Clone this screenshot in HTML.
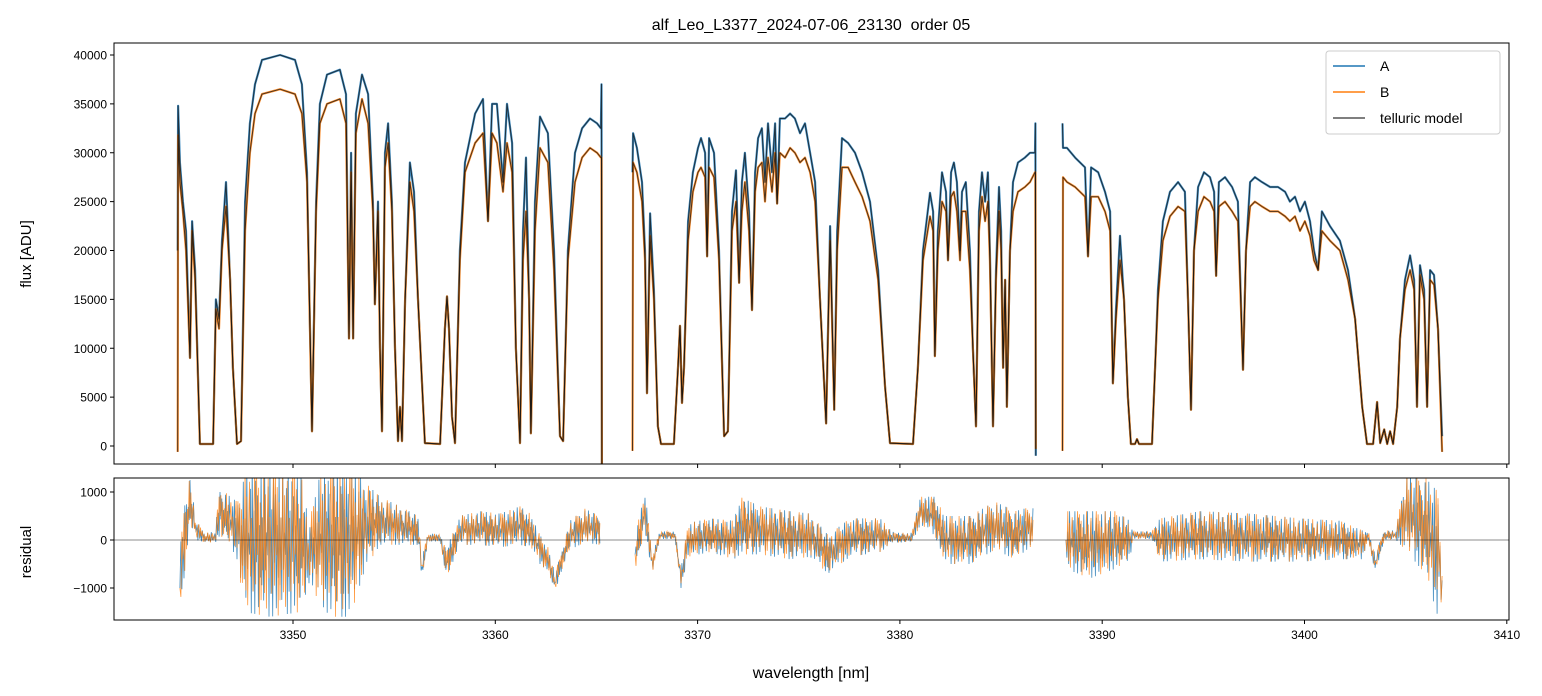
<!DOCTYPE html>
<html><head><meta charset="utf-8"><style>
html,body{margin:0;padding:0;background:#fff;}
svg{display:block;font-family:"Liberation Sans","DejaVu Sans",sans-serif;}
</style></head><body>
<svg id="chart" width="1542" height="696" viewBox="0 0 1542 696" xmlns="http://www.w3.org/2000/svg">
<rect x="0" y="0" width="1542" height="696" fill="#fff"/>
<text x="811" y="30" font-size="16" text-anchor="middle" fill="#000" style="white-space:pre">alf_Leo_L3377_2024-07-06_23130  order 05</text>
<g id="top-panel"></g>
<g id="bot-panel"></g>
<text transform="translate(31,254) rotate(-90)" font-size="15" text-anchor="middle">flux [ADU]</text>
<text transform="translate(31,552) rotate(-90)" font-size="15" text-anchor="middle">residual</text>
<text x="811" y="678" font-size="16" text-anchor="middle">wavelength [nm]</text>
<g>
<rect x="1326" y="51" width="174" height="83" rx="3" fill="#fff" fill-opacity="0.8" stroke="#ccc"/>
<line x1="1333" y1="66" x2="1365" y2="66" stroke="#1f77b4" stroke-width="1.5"/>
<text x="1380" y="71" font-size="14">A</text>
<line x1="1333" y1="92" x2="1365" y2="92" stroke="#ff7f0e" stroke-width="1.5"/>
<text x="1380" y="97" font-size="14">B</text>
<line x1="1333" y1="118" x2="1365" y2="118" stroke="#555" stroke-width="1.5"/>
<text x="1380" y="123" font-size="14">telluric model</text>
</g>
</svg>
<script>
// flux knots (wavelength nm, flux in kADU)
const wl = [3344.30,3344.32,3344.41,3344.56,3344.71,3344.91,3345.01,3345.16,3345.40,3346.05,3346.19,3346.34,3346.49,3346.69,3346.89,3347.03,3347.23,3347.43,3347.63,3347.87,3348.12,3348.47,3349.36,3350.10,3350.44,3350.69,3350.94,3351.14,3351.33,3351.68,3352.32,3352.62,3352.77,3352.87,3352.97,3353.11,3353.41,3353.71,3353.95,3354.05,3354.20,3354.30,3354.40,3354.55,3354.70,3354.89,3355.04,3355.19,3355.29,3355.39,3355.54,3355.78,3355.98,3356.18,3356.52,3357.27,3357.51,3357.61,3357.71,3357.86,3358.01,3358.25,3358.50,3359.00,3359.39,3359.64,3359.84,3360.08,3360.38,3360.58,3360.83,3361.02,3361.22,3361.37,3361.52,3361.67,3361.76,3361.96,3362.21,3362.60,3362.90,3363.20,3363.35,3363.59,3363.94,3364.29,3364.68,3365.03,3365.22,3365.25,3365.27,
3366.78,3366.81,3367.00,3367.25,3367.40,3367.50,3367.65,3367.84,3368.04,3368.19,3368.83,3369.03,3369.13,3369.23,3369.33,3369.53,3369.77,3370.02,3370.17,3370.37,3370.47,3370.57,3370.81,3371.06,3371.31,3371.50,3371.70,3371.90,3372.05,3372.19,3372.34,3372.54,3372.69,3372.84,3372.99,3373.18,3373.33,3373.48,3373.68,3373.83,3373.93,3374.07,3374.32,3374.57,3374.81,3375.06,3375.31,3375.56,3375.81,3376.05,3376.35,3376.55,3376.75,3376.90,3377.14,3377.44,3377.78,3378.13,3378.52,3378.92,3379.27,3379.51,3380.65,3380.89,3381.14,3381.49,3381.64,3381.73,3381.88,3382.08,3382.28,3382.38,3382.53,3382.67,3382.82,3382.97,3383.07,3383.26,3383.46,3383.61,3383.76,3383.91,3384.06,3384.21,3384.35,3384.45,3384.60,3384.75,3384.90,3385.00,3385.10,3385.20,3385.29,3385.44,3385.59,3385.84,3386.18,3386.43,3386.68,3386.70,3386.72,
3388.04,3388.06,3388.26,3388.66,3389.15,3389.30,3389.45,3389.80,3390.14,3390.39,3390.53,3390.68,3390.88,3391.08,3391.27,3391.42,3391.62,3391.72,3391.82,3392.46,3392.61,3392.76,3393.00,3393.35,3393.75,3394.09,3394.24,3394.39,3394.54,3394.74,3395.03,3395.33,3395.53,3395.63,3395.77,3396.07,3396.42,3396.71,3396.81,3396.96,3397.11,3397.31,3397.55,3397.90,3398.30,3398.69,3399.04,3399.28,3399.53,3399.78,3400.02,3400.27,3400.47,3400.67,3400.86,3401.26,3401.75,3402.15,3402.50,3402.85,3403.09,3403.39,3403.59,3403.74,3403.94,3404.09,3404.23,3404.38,3404.58,3404.72,3404.97,3405.22,3405.42,3405.56,3405.71,3405.91,3406.06,3406.21,3406.40,3406.60,3406.80];
const fluxA = [20,34.8,29,25,22,9,23,18,0.2,0.2,15,13,21,27,17,8,0.2,0.5,25,33,37,39.5,40,39.5,37,28,1.5,25,35,38,38.5,36,11,30,11,34,38,36,25,14.5,25,10,1.5,30,33,25,10,0.5,4,0.5,15,29,26,15,0.3,0.2,12,15.3,12,3,0.3,20,29,34,35.5,23,35,35,27,35,31,10,0.3,22,29.5,15,1.3,25,33.7,32,20,1,0.5,20,30,32.5,33.5,33,32.5,37,-1.8,
28,32,30.5,27,20,5.4,23.8,16,2,0.2,0.2,8,12.3,4.4,8,23,28,30.5,31.5,30,19.4,31.5,30,20,1,1.5,24,28.2,16.7,27,30,24,13.9,28,31.5,32.5,27,33,28,33,24.8,33.5,33.5,34,33.5,32,33,30,27,15,2.3,22.5,3.7,22,31.5,31,30,28,25,18,6,0.3,0.2,8,20,25.9,24,9.2,22,28,26,19,28,29,27,20,26,27,20,10,2,24,28,25,28,20,2,18,26.5,22,8,17,4,20,27,29,29.5,30,30,33,-1,
33,30.5,30.5,29.5,28.5,19.4,28.5,28,26,24,6.4,14,21.5,15,5,0.2,0.2,0.7,0.2,0.2,7.8,16,23,26,27,26,15,3.7,20,26.5,28,27.5,26,17.4,27,27.5,26.5,25,18,7.8,20,27,27.5,27,26.5,26.5,26,25,25.5,24,25,23,20,18,24,22.5,21,18,13,4,0.2,0.2,4.5,0.3,1.7,0.2,1.5,0.2,4,11,17,19.5,17,4,18.5,16,4,18,17.5,12,1];
const fluxB = [-0.6,31.8,27,24,20,9,22,17,0.2,0.2,14,12,20,24.5,17,8,0.2,0.5,22,30,34,36,36.5,36,34,27,1.5,24,33,35,35.5,33,11,28,11,32,35.5,33,24,14.5,24,10,1.5,28.5,31,24,10,0.5,4,0.5,15,27,24,15,0.3,0.2,12,15.3,12,3,0.3,19,28,31,32,23,32,31,26,31,28,10,0.3,19,24,15,1.3,22,30.5,29,18,1,0.5,19,27,29.5,30.5,30,29.5,29.5,-1.8,
-0.5,29,28,25,19,5.4,21.5,15,2,0.2,0.2,8,12.3,4.4,8,21,26,28,28.5,27.5,19.4,28.5,27.5,19,1,1.5,22,25,16.7,24,27,22,13.9,26,28.5,29,25,29.5,26,30,24.8,30,29.5,30.5,30,29,29.5,28,25,15,2.3,21,3.7,20,28.5,28.5,27,25.5,23,17,6,0.3,0.2,8,19,23.5,22,9.2,20,25,24,19,25.5,26,24,19,24,24,18,10,2,22,25.5,23,25,19,2,17,24,20,8,17,4,20,24,26,26.5,27,28,28,-0.3,
-0.5,27.5,27,26.5,25.5,19.4,25.5,25.5,24,22,6.4,13,19,15,5,0.2,0.2,0.7,0.2,0.2,7.8,15,21,23.5,24.5,24,15,3.7,20,24,25.5,25,24,17.4,24.5,25,24,23,17,7.8,20,24.5,25,24.5,24,24,23.5,23,23.5,22,23,21.5,19,18,22,21,20,17,13,4,0.2,0.2,4.5,0.3,1.7,0.2,1.5,0.2,4,11,16,18,16,4,17.5,15,4,17,16.5,12,-0.6];
// wavelengths where a new detector segment starts (gaps in coverage)
const segmentStarts = [3366.78, 3388.04];
// residual envelope knots (wavelength nm, mean and spread in kADU)
const resWl = [3344.41,3344.61,3344.91,3345.21,3345.65,3346.14,3346.39,3346.89,3347.23,3347.63,3348.86,3350.35,3350.79,3351.19,3351.83,3352.82,3353.56,3354.30,3355.29,3356.18,3356.38,3356.67,3357.27,3357.56,3357.86,3358.25,3359.24,3360.23,3361.22,3361.72,3362.21,3362.60,3362.95,3363.30,3363.69,3364.43,3365.17,
3366.91,3367.40,3367.75,3368.14,3368.88,3369.18,3369.53,3370.61,3371.80,3372.10,3373.08,3374.57,3375.56,3376.45,3377.53,3379.02,3379.71,3380.60,3380.99,3381.73,3382.22,3383.46,3384.70,3385.69,3386.58,
3388.21,3389.40,3390.63,3391.37,3391.52,3392.46,3392.86,3394.83,3397.31,3399.78,3401.75,3402.85,3403.14,3403.49,3403.94,3404.53,3404.97,3405.96,3406.60,3406.80];
const resMean = [-1.0,0.0,0.8,0.2,0.05,0.05,0.6,0.4,0.2,0,0,0,-0.3,0,0,0,0.3,0.4,0.3,0.2,-0.6,0.05,0.05,-0.5,-0.2,0.2,0.25,0.2,0.3,0.2,-0.2,-0.4,-0.9,-0.4,0.1,0.3,0.2,
-0.3,0.6,-0.5,0.1,0.1,-0.8,0,0.1,0,0.3,0.2,0.1,0.1,-0.3,0.05,0.1,0.05,0.05,0.6,0.5,0,0,0.3,0.1,0.3,
0,-0.1,0,0,0.1,0.1,0,0.1,0.05,0,0,-0.1,0.1,-0.5,0.1,0.1,0.6,0.3,-0.3,-0.9];
const resSpread = [0.7,0.8,0.5,0.2,0.1,0.12,0.5,0.5,0.6,1.5,1.6,1.5,0.6,1.2,1.6,1.6,0.9,0.5,0.4,0.3,0.25,0.08,0.08,0.3,0.3,0.3,0.35,0.35,0.4,0.35,0.3,0.25,0.2,0.2,0.3,0.35,0.3,
0.4,0.4,0.2,0.08,0.08,0.2,0.35,0.35,0.4,0.6,0.5,0.5,0.45,0.4,0.4,0.35,0.1,0.1,0.3,0.4,0.5,0.5,0.5,0.5,0.4,
0.6,0.7,0.6,0.4,0.08,0.08,0.45,0.5,0.5,0.45,0.4,0.3,0.1,0.2,0.1,0.1,0.8,1.0,1.3,0.3];
const xTicks = [3350,3360,3370,3380,3390,3400,3410];
const yTicksTop = [0,5000,10000,15000,20000,25000,30000,35000,40000];
const yTicksBot = [-1000,0,1000];

const NS = 'http://www.w3.org/2000/svg';
const X0 = 114, X1 = 1509;
const TY0 = 43, TY1 = 464, BY0 = 478, BY1 = 620;
const xScale = w => 293 + (w - 3350) * 20.23;
const yTop = v => 446 - v * 9.775 / 1000;
const yBot = v => 540 - v * 48 / 1000;
function el(tag, attrs, parent) {
  const e = document.createElementNS(NS, tag);
  for (const k in attrs) e.setAttribute(k, attrs[k]);
  parent.appendChild(e);
  return e;
}
function isBreak(prev, cur) {
  return segmentStarts.some(s => prev < s - 0.05 && cur >= s - 0.05);
}
const topG = document.getElementById('top-panel');
const botG = document.getElementById('bot-panel');
const defs = el('defs', {}, document.getElementById('chart'));
const c1 = el('clipPath', {id: 'clipTop'}, defs);
el('rect', {x: X0, y: TY0, width: X1 - X0, height: TY1 - TY0}, c1);
const c2 = el('clipPath', {id: 'clipBot'}, defs);
el('rect', {x: X0, y: BY0, width: X1 - X0, height: BY1 - BY0}, c2);

function seriesPath(xs, ys, sx, sy) {
  let d = '';
  const n = Math.min(xs.length, ys.length);
  for (let i = 0; i < n; i++) {
    const brk = i === 0 || isBreak(xs[i - 1], xs[i]);
    d += (brk ? 'M' : 'L') + sx(xs[i]).toFixed(1) + ' ' + sy(ys[i] * 1000).toFixed(1) + ' ';
  }
  return d;
}
const gTop = el('g', {'clip-path': 'url(#clipTop)'}, topG);
const pA = el('path', {d: seriesPath(wl, fluxA, xScale, yTop), fill: 'none', stroke: '#1f77b4', 'stroke-width': 2.2, 'stroke-opacity': 0.85, 'stroke-linejoin': 'round'}, gTop);


const pB = el('path', {d: seriesPath(wl, fluxB, xScale, yTop), fill: 'none', stroke: '#ff7f0e', 'stroke-width': 2.2, 'stroke-opacity': 0.85, 'stroke-linejoin': 'round'}, gTop);


const mA = el('path', {d: seriesPath(wl, fluxA, xScale, yTop), fill: 'none', stroke: '#111', 'stroke-width': 1, 'stroke-opacity': 0.75, 'stroke-linejoin': 'round'}, gTop);


const mB = el('path', {d: seriesPath(wl, fluxB, xScale, yTop), fill: 'none', stroke: '#111', 'stroke-width': 1, 'stroke-opacity': 0.75, 'stroke-linejoin': 'round'}, gTop);



// residual traces: envelope knots rendered as a jagged trace
const jitA = [1,-0.7,0.4,-1,0.8,-0.3,0.6,-0.9,0.2,-0.5,0.9,-0.6,0.3,-0.8,1,-0.4,0.1,-0.2,0.7,-1];
const jitB = [-0.6,0.9,-0.2,0.7,-1,0.5,-0.8,0.3,-0.4,1,-0.7,0.6,-0.9,0.2,0.8,-0.5,0.3,-0.1,-0.7,0.4,1];
function residPath(jit) {
  let d = '', k = 0;
  const N = Math.min(resWl.length, resMean.length, resSpread.length);
  for (let i = 0; i < N; i++) {
    if (i === 0 || isBreak(resWl[i - 1], resWl[i])) {
      d += 'M' + xScale(resWl[i]).toFixed(1) + ' ' + yBot(resMean[i] * 1000).toFixed(1) + ' ';
      continue;
    }
    const xa = xScale(resWl[i - 1]), xb = xScale(resWl[i]);
    const n = Math.max(1, Math.round((xb - xa) / 0.9));
    for (let s = 1; s <= n; s++) {
      const t = s / n;
      const m = resMean[i - 1] + (resMean[i] - resMean[i - 1]) * t;
      const a = resSpread[i - 1] + (resSpread[i] - resSpread[i - 1]) * t;
      const v = m + a * jit[k++ % jit.length];
      d += 'L' + (xa + (xb - xa) * t).toFixed(1) + ' ' + yBot(v * 1000).toFixed(1) + ' ';
    }
  }
  return d;
}
const gBot = el('g', {'clip-path': 'url(#clipBot)'}, botG);
const rA = el('path', {d: residPath(jitA), fill: 'none', stroke: '#1f77b4', 'stroke-width': 0.8, 'stroke-opacity': 0.85}, gBot);


const rB = el('path', {d: residPath(jitB), fill: 'none', stroke: '#ff7f0e', 'stroke-width': 0.8, 'stroke-opacity': 0.8}, gBot);


const zl = el('line', {x1: X0, x2: X1, y1: yBot(0), y2: yBot(0), stroke: '#000', 'stroke-opacity': 0.6, 'stroke-width': 0.8}, botG);



// frames
const f1 = el('rect', {x: X0, y: TY0, width: X1 - X0, height: TY1 - TY0, fill: 'none', stroke: '#000', 'stroke-width': 1}, topG);


const f2 = el('rect', {x: X0, y: BY0, width: X1 - X0, height: BY1 - BY0, fill: 'none', stroke: '#000', 'stroke-width': 1}, botG);



// ticks
xTicks.forEach(t => {
  const x = xScale(t);
  el('line', {x1: x, x2: x, y1: TY1, y2: TY1 + 4, stroke: '#000'}, topG);
  el('line', {x1: x, x2: x, y1: BY1, y2: BY1 + 4, stroke: '#000'}, botG);
  const tx = el('text', {x: x, y: BY1 + 19, 'font-size': 12, 'text-anchor': 'middle'}, botG);
  tx.textContent = t;
  
  
});
yTicksTop.forEach(t => {
  const y = yTop(t);
  el('line', {x1: X0 - 4, x2: X0, y1: y, y2: y, stroke: '#000'}, topG);
  const tx = el('text', {x: X0 - 7, y: y + 4.5, 'font-size': 12, 'text-anchor': 'end'}, topG);
  tx.textContent = t;
  
  
});
yTicksBot.forEach(t => {
  const y = yBot(t);
  el('line', {x1: X0 - 4, x2: X0, y1: y, y2: y, stroke: '#000'}, botG);
  const tx = el('text', {x: X0 - 7, y: y + 4.5, 'font-size': 12, 'text-anchor': 'end'}, botG);
  tx.textContent = t < 0 ? '\u2212' + Math.abs(t) : t;
  
  
});
</script>
</body></html>
